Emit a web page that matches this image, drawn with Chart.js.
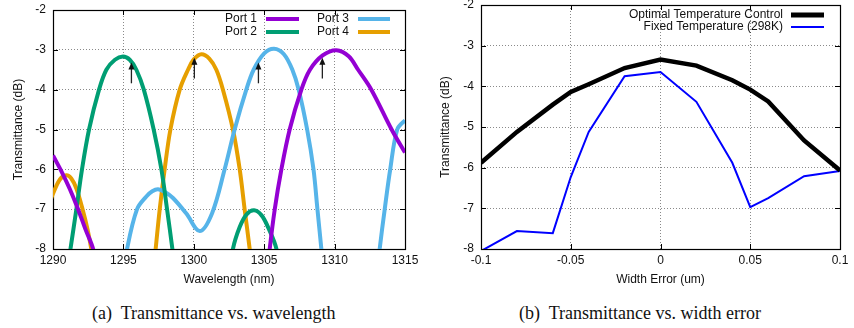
<!DOCTYPE html>
<html>
<head>
<meta charset="utf-8">
<script src="https://cdn.jsdelivr.net/npm/chart.js@4/dist/chart.umd.min.js"></script>
<style>
  html, body { margin:0; padding:0; background:#fff; }
  #wrap { position:relative; width:854px; height:328px; overflow:hidden; }
  .pane { position:absolute; top:0; width:427px; height:300px; }
  .cap  { position:absolute; top:304px; font:18px 'Liberation Serif','Times New Roman',serif; line-height:18px; white-space:pre; color:#111; }
</style>
</head>
<body>
<div id="wrap">
  <div class="pane" style="left:0"><canvas id="chartA" width="427" height="300"></canvas></div>
  <div class="pane" style="left:427px"><canvas id="chartB" width="427" height="300"></canvas></div>
  <div class="cap" style="left:92px">(a)  Transmittance vs. wavelength</div>
  <div class="cap" style="left:519px">(b)  Transmittance vs. width error</div>
</div>
<script>
// ── DATA: (a) wavelength sweep ─────────────────────────────
// null in the dB arrays breaks the curve (gnuplot clipped it below -8 dB)
const port1Wl = [1290, 1290.6, 1291.2, 1291.78, 1292.3, 1292.85, 1293.15, 1300,
                 1305.1, 1305.39, 1305.75, 1306.22, 1306.81, 1307.64, 1308.25, 1309.15, 1310.13,
                 1311.0, 1311.67, 1312.61, 1314.05, 1315, 1315.3];
const port1Db = [-5.65, -6.05, -6.5, -7.0, -7.5, -8.0, -8.6, null,
                 -9.0, -8.0, -7.0, -6.0, -5.0, -4.0, -3.5, -3.14, -3.01,
                 -3.16, -3.5, -4.0, -5.0, -5.58, -5.75];

const port2Wl = [1290.9, 1291.24, 1291.66, 1292.06, 1292.56, 1293.27, 1293.79, 1294.4, 1294.97,
                 1295.45, 1295.92, 1296.45, 1297.15, 1297.7, 1298.1, 1298.48, 1298.8, 1300,
                 1302.45, 1302.78, 1303.26, 1303.75, 1304.28, 1304.8, 1305.27, 1305.87, 1306.2];
const port2Db = [-8.8, -8, -7, -6, -5, -4, -3.5, -3.25, -3.17,
                 -3.25, -3.5, -4, -5, -6, -7, -8, -8.9, null,
                 -8.9, -8, -7.45, -7.13, -7.03, -7.15, -7.45, -8, -8.9];

const port3Wl = [1294.95, 1295.26, 1295.97, 1296.63, 1297.05, 1297.46, 1297.95, 1298.52, 1299.47, 1300.42, 1301.3,
                 1302.19, 1302.9, 1303.73, 1304.25, 1305.0, 1305.7, 1306.4, 1307.0, 1307.45,
                 1308.05, 1308.5, 1308.78, 1309.06, 1309.3, 1311,
                 1312.95, 1313.2, 1313.56, 1313.95, 1314.45, 1315, 1315.3];
const port3Db = [-8.8, -8, -7, -6.68, -6.55, -6.5, -6.57, -6.72, -7.11, -7.55, -7.1,
                 -6, -5, -4, -3.5, -3.09, -2.97, -3.11, -3.5, -4,
                 -5, -6, -7, -8, -8.9, null,
                 -8.8, -8, -7, -6, -5, -4.77, -4.68];

const port4Wl = [1289.8, 1290, 1290.5, 1290.95, 1291.3, 1291.66, 1292.1, 1292.45, 1292.72, 1292.95, 1295,
                 1297.0, 1297.29, 1297.58, 1297.93, 1298.34, 1299.0, 1299.59, 1300.0, 1300.54,
                 1301.1, 1301.6, 1302.07, 1302.78, 1303.26, 1303.61, 1303.97, 1304.2];
const port4Db = [-6.8, -6.61, -6.25, -6.15, -6.23, -6.48, -7.0, -7.5, -8, -8.5, null,
                 -9, -8, -7, -6, -5, -4, -3.5, -3.24, -3.11,
                 -3.22, -3.5, -4, -5, -6, -7, -8, -8.7];

// black arrows marking the design wavelengths
const arrowWl     = [1295.57, 1300.04, 1304.59, 1309.13];
const arrowFromDb = [-3.84, -3.72, -3.84, -3.72];
const arrowToDb   = [-3.32, -3.2, -3.32, -3.2];

// ── DATA: (b) width error sweep ────────────────────────────
const widthErr   = [-0.1, -0.08, -0.06, -0.05, -0.04, -0.02, 0, 0.02, 0.04, 0.05, 0.06, 0.08, 0.1];
const optimalDb  = [-5.88, -5.12, -4.45, -4.14, -3.95, -3.55, -3.34, -3.49, -3.85, -4.08, -4.37, -5.33, -6.07];
const fixedDb    = [-8.05, -7.56, -7.61, -6.23, -5.12, -3.75, -3.65, -4.38, -5.88, -6.97, -6.75, -6.21, -6.08];

// ── HELPERS ────────────────────────────────────────────────
const FONT = "'Liberation Sans', Arial, Helvetica, sans-serif";
const INK  = '#111';

const pts = (xs, ys) => xs.map((x, i) => ({ x, y: ys[i] }));

// fixed axis sizes so the plot boxes land where the reference has them
const fixW = w => s => { s.width = w; s.paddingTop = 0; s.paddingBottom = 0; };
const fixH = h => s => { s.height = h; s.paddingLeft = 0; s.paddingRight = 0; };

const axisX = (min, max, step, title, fmt) => ({
  type: 'linear', min, max,
  afterFit: fixH(51),
  ticks: { stepSize: step, color: INK, font: { family: FONT, size: 12 }, padding: 4, maxRotation: 0,
           callback: fmt || (v => v) },
  grid: { color: '#8a8a8a', lineWidth: 1, drawTicks: false, borderDash: [1, 2] },
  border: { display: false, dash: [1, 2] },
  title: { display: true, text: title, color: INK, font: { family: FONT, size: 12 }, padding: { top: 0, bottom: 13 } },
});

const axisY = (width) => ({
  type: 'linear', min: -8, max: -2,
  afterFit: fixW(width),
  ticks: { stepSize: 1, color: INK, font: { family: FONT, size: 12 }, padding: 7 },
  grid: { color: '#8a8a8a', lineWidth: 1, drawTicks: false, borderDash: [1, 2] },
  border: { display: false, dash: [1, 2] },
  title: { display: true, text: 'Transmittance (dB)', color: INK, font: { family: FONT, size: 12 }, padding: { top: 11, bottom: 0 } },
});

// gnuplot style frame with inward tick marks
const framePlugin = {
  id: 'frame',
  beforeDatasetsDraw(chart) {
    const { ctx, chartArea: a, scales: { x, y } } = chart;
    ctx.save();
    ctx.strokeStyle = '#000';
    ctx.lineWidth = 1;
    ctx.beginPath();
    x.ticks.forEach(t => {
      const px = Math.round(x.getPixelForValue(t.value)) + 0.5;
      ctx.moveTo(px, a.top); ctx.lineTo(px, a.top + 5);
      ctx.moveTo(px, a.bottom); ctx.lineTo(px, a.bottom - 5);
    });
    y.ticks.forEach(t => {
      const py = Math.round(y.getPixelForValue(t.value)) + 0.5;
      ctx.moveTo(a.left, py); ctx.lineTo(a.left + 5, py);
      ctx.moveTo(a.right, py); ctx.lineTo(a.right - 5, py);
    });
    ctx.stroke();
    ctx.lineWidth = 1.2;
    ctx.strokeRect(Math.round(a.left) + 0.5, Math.round(a.top) + 0.5,
                   Math.round(a.right - a.left), Math.round(a.bottom - a.top));
    ctx.restore();
  }
};

// key drawn gnuplot-like: right-aligned text, then a line sample
const keyPlugin = {
  id: 'key',
  afterDraw(chart, args, opts) {
    const { ctx } = chart;
    ctx.save();
    ctx.font = `12px ${FONT}`;
    ctx.textAlign = 'right';
    ctx.textBaseline = 'middle';
    (opts.items || []).forEach(it => {
      const ds = chart.data.datasets[it.ds];
      ctx.fillStyle = INK;
      ctx.fillText(ds.label, it.textRight, it.y);
      ctx.strokeStyle = ds.borderColor;
      ctx.lineWidth = it.lw || ds.borderWidth;
      ctx.lineCap = 'butt';
      ctx.beginPath();
      ctx.moveTo(it.x1, it.y); ctx.lineTo(it.x2, it.y);
      ctx.stroke();
    });
    ctx.restore();
  }
};

const arrowPlugin = {
  id: 'arrows',
  afterDatasetsDraw(chart) {
    const { ctx, scales: { x, y } } = chart;
    ctx.save();
    ctx.strokeStyle = '#222';
    ctx.fillStyle = '#111';
    ctx.lineWidth = 1.3;
    arrowWl.forEach((w, i) => {
      const px = x.getPixelForValue(w);
      const y0 = y.getPixelForValue(arrowFromDb[i]);
      const y1 = y.getPixelForValue(arrowToDb[i]);
      ctx.beginPath();
      ctx.moveTo(px, y0); ctx.lineTo(px, y1 + 4);
      ctx.stroke();
      ctx.beginPath();
      ctx.moveTo(px, y1); ctx.lineTo(px - 3, y1 + 7); ctx.lineTo(px + 3, y1 + 7);
      ctx.closePath(); ctx.fill();
    });
    ctx.restore();
  }
};

const lineDs = (label, data, color, width, clip) => ({
  label, data,
  borderColor: color, backgroundColor: color,
  borderWidth: width, pointRadius: 0, pointHoverRadius: 0,
  tension: 0.35, spanGaps: false, fill: false,
  borderJoinStyle: 'round',
  clip,
});

// ── CHART (a) ──────────────────────────────────────────────
new Chart(document.getElementById('chartA'), {
  type: 'line',
  data: {
    datasets: [
      lineDs('Port 1', pts(port1Wl, port1Db), '#9400d3', 4, 0),
      lineDs('Port 2', pts(port2Wl, port2Db), '#009e73', 4, 0),
      lineDs('Port 3', pts(port3Wl, port3Db), '#56b4e9', 4, 0),
      lineDs('Port 4', pts(port4Wl, port4Db), '#e69f00', 4, 0),
    ]
  },
  options: {
    responsive: false, animation: false, events: [],
    layout: { padding: { left: 0, right: 22, top: 10, bottom: 0 } },
    scales: {
      x: axisX(1290, 1315, 5, 'Wavelength (nm)'),
      y: axisY(53),
    },
    plugins: {
      legend: { display: false }, tooltip: { enabled: false },
      key: { items: [
        { ds: 0, textRight: 257, x1: 266, x2: 299, y: 19 },
        { ds: 1, textRight: 257, x1: 266, x2: 299, y: 32 },
        { ds: 2, textRight: 349, x1: 358, x2: 390, y: 19 },
        { ds: 3, textRight: 349, x1: 358, x2: 390, y: 32 },
      ] },
    },
  },
  plugins: [framePlugin, arrowPlugin, keyPlugin],
});

// ── CHART (b) ──────────────────────────────────────────────
new Chart(document.getElementById('chartB'), {
  type: 'line',
  data: {
    datasets: [
      { ...lineDs('Optimal Temperature Control', pts(widthErr, optimalDb), '#000', 4.5), tension: 0, borderJoinStyle: 'miter' },
      { ...lineDs('Fixed Temperature (298K)', pts(widthErr, fixedDb), '#0000ff', 2), tension: 0, borderJoinStyle: 'miter' },
    ]
  },
  options: {
    responsive: false, animation: false, events: [],
    layout: { padding: { left: 0, right: 14, top: 5, bottom: 0 } },
    scales: {
      x: axisX(-0.1, 0.1, 0.05, 'Width Error (um)', v => String(Math.round(v * 100) / 100 || 0)),
      y: axisY(54),
    },
    plugins: {
      legend: { display: false }, tooltip: { enabled: false },
      key: { items: [
        { ds: 0, textRight: 356, x1: 364, x2: 397, y: 15, lw: 5 },
        { ds: 1, textRight: 356, x1: 364, x2: 397, y: 27 },
      ] },
    },
  },
  plugins: [framePlugin, keyPlugin],
});
</script>
</body>
</html>
